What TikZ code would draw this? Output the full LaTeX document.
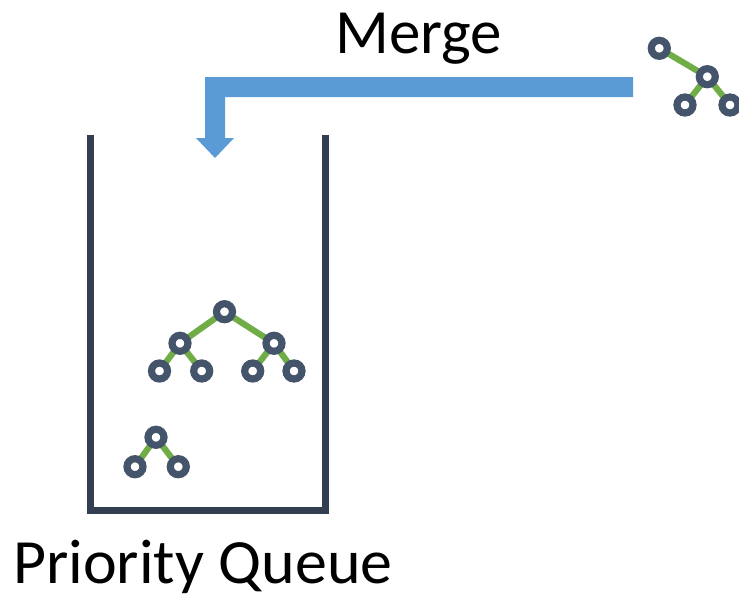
\documentclass[tikz,border=0pt]{standalone}
\usepackage{fontspec}
\setmainfont{Carlito}
\definecolor{ringcol}{HTML}{44546A}
\definecolor{edgecol}{HTML}{70AD47}
\definecolor{bucketcol}{HTML}{333F50}
\definecolor{arrowcol}{HTML}{5B9BD5}
\tikzset{
  tnode/.style={circle, minimum size=22pt, inner sep=0pt, outer sep=0pt},
  ring/.style={draw=ringcol, line width=7.2pt, fill=white},
  tedge/.style={draw=edgecol, line width=6.2pt},
  bigtext/.style={inner sep=0pt, font=\fontsize{63}{74}\selectfont},
}
\begin{document}
\begin{tikzpicture}[x=1pt,y=-1pt]
\useasboundingbox (0,0) rectangle (739,595);

% merge arrow
\fill[arrowcol] (633,77) -- (205,77) -- (205,138) -- (196,138) -- (215,158)
  -- (234,138) -- (225,138) -- (225,97) -- (633,97) -- cycle;
\node[bigtext, anchor=base west] (merge) at (335,53) {Merge};

% queue container
\draw[bucketcol, line width=7pt] (90,135) -- (90,510.5) -- (325,510.5) -- (325,135);
\node[bigtext, anchor=base west, xscale=1.015] (pq) at (13,583) {Priority Queue};

% tree of size 7
\node[tnode] (r) at (224.5,311.7) {};
\node[tnode] (a) at (180,343.3) {};
\node[tnode] (b) at (274,343.3) {};
\node[tnode] (a1) at (159.5,371) {};
\node[tnode] (a2) at (201.7,371) {};
\node[tnode] (b1) at (252.7,371) {};
\node[tnode] (b2) at (294,371) {};

% tree of size 3
\node[tnode] (s) at (156,437.3) {};
\node[tnode] (s1) at (135,466.7) {};
\node[tnode] (s2) at (178.3,466.7) {};

% incoming tree
\node[tnode] (t) at (659.3,48.3) {};
\node[tnode] (u) at (707.3,76.7) {};
\node[tnode] (u1) at (685,105) {};
\node[tnode] (u2) at (730,105) {};

% edges
\foreach \p/\c in {r/a, r/b, a/a1, a/a2, b/b1, b/b2, s/s1, s/s2, t/u, u/u1, u/u2}
  \path[tedge] (\p) -- (\c);

% rings on top of the edges
\foreach \n in {r, a, b, a1, a2, b1, b2, s, s1, s2, t, u, u1, u2}
  \path[ring] (\n.center) circle[radius=8pt];
\end{tikzpicture}
\end{document}
